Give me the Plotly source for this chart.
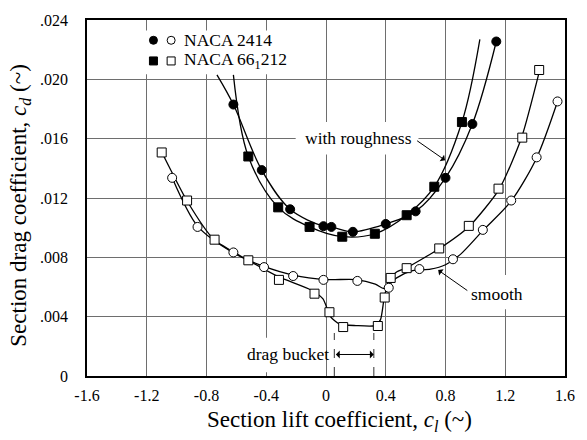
import plotly.graph_objects as go

# ---- measured drag polars -------------------------------------------------
# NACA 2414, smooth surface (open circles)
cl_2414_smooth = [-1.03, -0.86, -0.62, -0.415, -0.22, -0.017, 0.21, 0.42, 0.625, 0.85, 1.05, 1.24, 1.41, 1.55]
cd_2414_smooth = [0.01336, 0.01005, 0.00833, 0.00734, 0.00674, 0.00648, 0.00641, 0.00595, 0.00721, 0.00787, 0.00985, 0.01183, 0.01474, 0.01851]

# NACA 2414, with roughness (filled circles)
cl_2414_rough = [-0.62, -0.43, -0.24, -0.017, 0.036, 0.18, 0.40, 0.60, 0.80, 0.98, 1.14]
cd_2414_rough = [0.0183, 0.01388, 0.01124, 0.0101, 0.01005, 0.00972, 0.01025, 0.0111, 0.01336, 0.01699, 0.02255]

# NACA 66(1)-212, smooth surface (open squares)
cl_66_smooth = [-1.10, -0.93, -0.746, -0.52, -0.315, -0.077, 0.023, 0.115, 0.347, 0.393, 0.433, 0.54, 0.758, 0.956, 1.155, 1.314, 1.427]
cd_66_smooth = [0.01507, 0.01183, 0.00919, 0.0078, 0.00648, 0.00555, 0.0043, 0.0033, 0.00337, 0.00529, 0.00661, 0.00727, 0.0086, 0.01012, 0.01263, 0.01607, 0.02063]

# NACA 66(1)-212, with roughness (filled squares)
cl_66_rough = [-0.52, -0.32, -0.11, 0.109, 0.327, 0.54, 0.725, 0.91]
cd_66_rough = [0.0148, 0.01137, 0.01005, 0.00939, 0.00959, 0.01084, 0.01276, 0.01712]

# ---- faired curves drawn through the data --------------------------------
fit_2414_smooth_cl = [-1.03, -0.86, -0.62, -0.42, -0.22, 0.0, 0.2, 0.33, 0.39, 0.47, 0.58, 0.70, 0.80, 0.90, 1.05, 1.24, 1.41, 1.55]
fit_2414_smooth_cd = [0.01336, 0.0101, 0.0083, 0.0074, 0.0068, 0.0065, 0.0065, 0.0062, 0.0059, 0.0066, 0.0071, 0.0072, 0.0075, 0.0082, 0.0098, 0.0118, 0.0147, 0.0185]

fit_66_smooth_cl = [-1.10, -0.93, -0.75, -0.52, -0.32, -0.10, -0.02, 0.03, 0.09, 0.2, 0.33, 0.365, 0.39, 0.42, 0.47, 0.54, 0.76, 0.96, 1.16, 1.31, 1.43]
fit_66_smooth_cd = [0.0151, 0.0118, 0.0092, 0.0078, 0.0067, 0.0058, 0.0052, 0.0040, 0.0035, 0.0034, 0.0034, 0.0038, 0.0053, 0.0064, 0.0070, 0.0073, 0.0086, 0.0101, 0.0126, 0.0161, 0.0206]

fit_2414_rough_cl = [-0.73] + cl_2414_rough
fit_2414_rough_cd = [0.0203] + cd_2414_rough

fit_66_rough_cl = [-0.62] + cl_66_rough + [1.03]
fit_66_rough_cd = [0.0203] + cd_66_rough + [0.0227]

# axis ticks
x_ticks = [-1.6, -1.2, -0.8, -0.4, 0.0, 0.4, 0.8, 1.2, 1.6]
x_tick_text = ["-1.6", "-1.2", "-0.8", "-0.4", "0", "0.4", "0.8", "1.2", "1.6"]
y_ticks = [0.0, 0.004, 0.008, 0.012, 0.016, 0.020, 0.024]
y_tick_text = ["0", ".004", ".008", ".012", ".016", ".020", ".024"]

# drag-bucket limits
bucket_lo, bucket_hi = 0.056, 0.32

FONT = '"Times New Roman", "Liberation Serif", serif'
LINE = dict(color="black", width=1.3)

fig = go.Figure()

for cx, cy, smoothing in [
    (fit_2414_smooth_cl, fit_2414_smooth_cd, 0.8),
    (fit_66_smooth_cl, fit_66_smooth_cd, 0.6),
    (fit_2414_rough_cl, fit_2414_rough_cd, 1.0),
    (fit_66_rough_cl, fit_66_rough_cd, 1.0),
]:
    fig.add_trace(go.Scatter(x=cx, y=cy, mode="lines",
                             line=dict(shape="spline", smoothing=smoothing, **LINE),
                             hoverinfo="skip", showlegend=False))

def markers(x, y, symbol, fill, xa="x", ya="y", size=9):
    fig.add_trace(go.Scatter(
        x=x, y=y, mode="markers", xaxis=xa, yaxis=ya, showlegend=False,
        marker=dict(symbol=symbol, size=size, color=fill,
                    line=dict(color="black", width=1))))

markers(cl_2414_smooth, cd_2414_smooth, "circle", "white")
markers(cl_66_smooth, cd_66_smooth, "square", "white")
markers(cl_2414_rough, cd_2414_rough, "circle", "black")
markers(cl_66_rough, cd_66_rough, "square", "black")

# key rows, in plot fractions on an overlay axis
key_row_2414, key_row_66 = 0.943, 0.885
markers([0.139], [key_row_2414], "circle", "black", "x2", "y2", 8)
markers([0.176], [key_row_2414], "circle", "white", "x2", "y2", 8)
markers([0.139], [key_row_66], "square", "black", "x2", "y2", 8)
markers([0.176], [key_row_66], "square", "white", "x2", "y2", 8)

# white panels that interrupt the grid behind the labels
panels = [
    (-1.25, 0.02035, -0.22, 0.0233),    # key
    (-0.203, 0.01494, 0.619, 0.01712),  # with roughness
    (0.956, 0.0045, 1.334, 0.00681),    # smooth
    (-0.56, 0.00026, -0.02, 0.00258),   # drag bucket
]
shapes = [dict(type="rect", xref="x", yref="y", x0=a, y0=b, x1=c, y1=d,
               fillcolor="white", line=dict(width=0), layer="between")
          for a, b, c, d in panels]
for xb in (bucket_lo, bucket_hi):
    shapes.append(dict(type="line", xref="x", yref="y", x0=xb, x1=xb, y0=0, y1=0.0029,
                       line=dict(color="#555555", width=1.2, dash="dash"), layer="above"))

annotations = [
    dict(x=0.199, y=key_row_2414, xref="x2", yref="y2", text="NACA 2414", showarrow=False,
         xanchor="left", yanchor="middle", font=dict(size=17.5)),
    dict(x=0.199, y=key_row_66, xref="x2", yref="y2", text="NACA 66<sub>1</sub>212", showarrow=False,
         xanchor="left", yanchor="middle", font=dict(size=17.5)),
    dict(x=0.215, y=0.01607, xref="x", yref="y", text="with roughness", showarrow=False,
         font=dict(size=17.5)),
    dict(x=0.797, y=0.01455, ax=0.60, ay=0.01593, xref="x", yref="y", axref="x", ayref="y",
         text="", showarrow=True, arrowhead=1, arrowsize=1.3, arrowwidth=1, arrowcolor="black"),
    dict(x=1.142, y=0.00555, xref="x", yref="y", text="smooth", showarrow=False,
         font=dict(size=17.5)),
    dict(x=0.751, y=0.00714, ax=0.956, ay=0.00569, xref="x", yref="y", axref="x", ayref="y",
         text="", showarrow=True, arrowhead=1, arrowsize=1.3, arrowwidth=1, arrowcolor="black"),
    dict(x=-0.256, y=0.00145, xref="x", yref="y", text="drag bucket", showarrow=False,
         font=dict(size=17.5)),
    dict(x=bucket_hi, y=0.00145, ax=bucket_lo, ay=0.00145, xref="x", yref="y", axref="x", ayref="y",
         text="", showarrow=True, arrowhead=1, startarrowhead=1, arrowside="end+start",
         arrowsize=1.3, startarrowsize=1.3, arrowwidth=1, arrowcolor="black"),
    # axis titles
    dict(x=0.528, y=-0.127, xref="paper", yref="paper", showarrow=False,
         text="Section lift coefficient, <i>c</i><sub><i>l</i></sub> (~)",
         xanchor="center", yanchor="middle", font=dict(size=23)),
    dict(x=-0.139, y=0.48, xref="paper", yref="paper", showarrow=False, textangle=-90,
         text="Section drag coefficient, <i>c</i><sub><i>d</i></sub> (~)",
         xanchor="center", yanchor="middle", font=dict(size=23)),
]

grid = dict(showgrid=True, gridcolor="#6e6e6e", gridwidth=1.2, zeroline=False,
            showline=True, linecolor="black", linewidth=1.5, mirror=True, ticks="",
            tickfont=dict(size=16, color="black"))

fig.update_layout(
    width=587, height=440,
    margin=dict(l=87, r=17, t=13, b=64),
    paper_bgcolor="white", plot_bgcolor="white",
    font=dict(family=FONT, color="black"),
    xaxis=dict(range=[-1.6, 1.6], tickvals=x_ticks, ticktext=x_tick_text,
               ticklabelstandoff=4, **grid),
    yaxis=dict(range=[0, 0.024], tickvals=y_ticks, ticktext=y_tick_text,
               ticklabelstandoff=14, **grid),
    xaxis2=dict(overlaying="x", range=[0, 1], visible=False),
    yaxis2=dict(overlaying="y", range=[0, 1], visible=False),
    shapes=shapes, annotations=annotations, showlegend=False,
)

fig.write_html("out.html")
